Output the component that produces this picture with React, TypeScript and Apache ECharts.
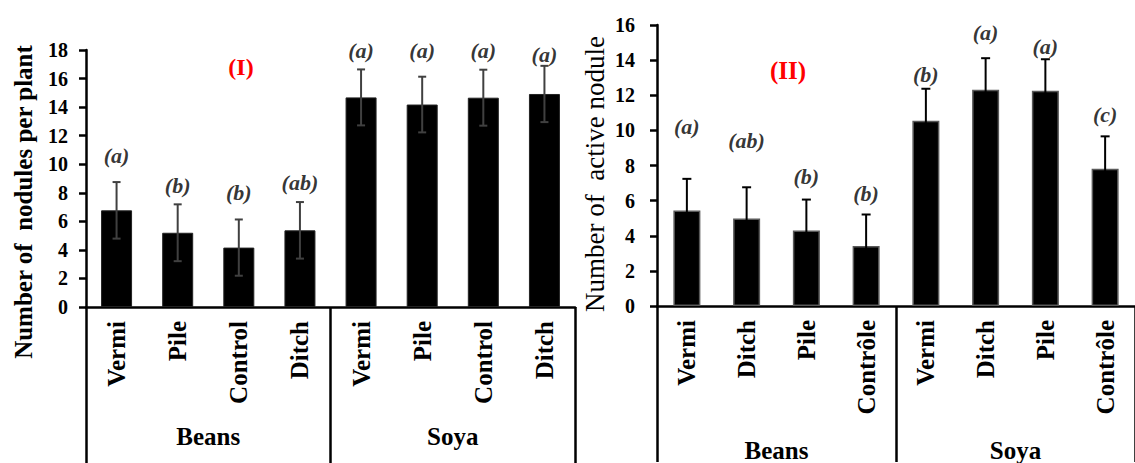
import React, { useEffect, useRef } from 'react';
import * as echarts from 'echarts';

const groups = ['Beans', 'Soya'];

const catsI = ['Vermi', 'Pile', 'Control', 'Ditch', 'Vermi', 'Pile', 'Control', 'Ditch'];
const meanI = [6.77, 5.2, 4.16, 5.37, 14.68, 14.18, 14.66, 14.92];
const errI = [1.98, 1.99, 1.97, 1.98, 1.96, 1.95, 1.96, 1.97];
const letterI = ['(a)', '(b)', '(b)', '(ab)', '(a)', '(a)', '(a)', '(a)'];
const letterLevelI = [10.6, 8.5, 8.0, 8.7, 17.95, 17.95, 17.95, 17.7];
const ticksI = { min: 0, max: 18, step: 2 };

const catsII = ['Vermi', 'Ditch', 'Pile', 'Contrôle', 'Vermi', 'Ditch', 'Pile', 'Contrôle'];
const meanII = [5.44, 4.98, 4.3, 3.41, 10.55, 12.31, 12.26, 7.82];
const errII = [1.8, 1.78, 1.76, 1.8, 1.82, 1.8, 1.79, 1.84];
const letterII = ['(a)', '(ab)', '(b)', '(b)', '(b)', '(a)', '(a)', '(c)'];
const letterLevelII = [10.2, 9.4, 7.4, 6.4, 13.2, 15.55, 14.8, 10.9];
const ticksII = { min: 0, max: 16, step: 2 };

const FF = 'Liberation Serif';

function errorRender(color: string, half: number) {
  return (params: any, api: any) => {
    const x = api.value(0);
    const lo = api.coord([x, api.value(1)]);
    const hi = api.coord([x, api.value(2)]);
    const st = { stroke: color, lineWidth: 2 };
    return {
      type: 'group',
      children: [
        { type: 'line', shape: { x1: hi[0], y1: hi[1], x2: lo[0], y2: lo[1] }, style: st },
        { type: 'line', shape: { x1: hi[0] - half, y1: hi[1], x2: hi[0] + half, y2: hi[1] }, style: st },
        { type: 'line', shape: { x1: lo[0] - half, y1: lo[1], x2: lo[0] + half, y2: lo[1] }, style: st },
      ],
    };
  };
}

function panel(g: number, cats: string[], mean: number[], err: number[], letters: string[], levels: number[],
  ticks: { min: number; max: number; step: number }, opt: any) {
  const xAxes = [
    {
      gridIndex: g, type: 'category', data: cats, position: 'bottom',
      axisLine: { show: true, onZero: false, lineStyle: { color: '#000', width: 2.5 } },
      axisTick: {
        show: true, interval: (i: number) => i % 4 === 0, length: 156,
        lineStyle: { color: '#000', width: 2.5 },
      },
      axisLabel: { interval: 0, rotate: 90, margin: 14, fontFamily: FF, fontWeight: 'bold', fontSize: 25, color: '#000' },
      splitLine: { show: false },
    },
    {
      gridIndex: g, type: 'category', data: groups, position: 'bottom',
      axisLine: { show: false }, axisTick: { show: false },
      axisLabel: { interval: 0, margin: opt.groupMargin, fontFamily: FF, fontWeight: 'bold', fontSize: 25, color: '#000' },
      splitLine: { show: false },
    },
  ];
  const yAxis = {
    gridIndex: g, type: 'value', min: ticks.min, max: ticks.max, interval: ticks.step,
    axisLine: { show: true, lineStyle: { color: '#000', width: 2.5 } },
    axisTick: { show: true, inside: false, length: 7, lineStyle: { color: '#000', width: 2.5 } },
    axisLabel: { margin: opt.yMargin, fontFamily: FF, fontWeight: 'bold', fontSize: 20, color: '#000' },
    splitLine: { show: false },
  };
  const series = [
    {
      type: 'bar', xAxisIndex: 2 * g, yAxisIndex: g, data: mean, barWidth: opt.barWidth,
      itemStyle: { color: '#000', borderColor: opt.barBorder, borderWidth: opt.barBorderWidth },
      z: 2,
    },
    {
      type: 'custom', xAxisIndex: 2 * g, yAxisIndex: g,
      data: mean.map((m, i) => [i, m - err[i], m + err[i]]),
      encode: { x: 0, y: [1, 2] },
      renderItem: errorRender(opt.errColor, opt.capHalf),
      z: 3,
    },
    {
      type: 'scatter', xAxisIndex: 2 * g, yAxisIndex: g, clip: false,
      data: levels.map((l, i) => [i, l]),
      symbolSize: 1, itemStyle: { color: 'rgba(0,0,0,0)' },
      label: {
        show: true, position: 'inside', formatter: (p: any) => letters[p.dataIndex],
        fontFamily: FF, fontStyle: 'italic', fontWeight: 'bold', fontSize: 22, color: '#000',
      },
      z: 4,
    },
  ];
  return { xAxes, yAxis, series };
}

export default function App() {
  const ref = useRef<HTMLDivElement>(null);
  useEffect(() => {
    if (!ref.current) return;
    const chart = echarts.init(ref.current, undefined, { renderer: 'svg' });
    const p1 = panel(0, catsI, meanI, errI, letterI, letterLevelI, ticksI, {
      groupMargin: 117, yMargin: 18, barWidth: 31, barBorder: '#222', barBorderWidth: 1,
      errColor: '#404040', capHalf: 4,
    });
    const p2 = panel(1, catsII, meanII, errII, letterII, letterLevelII, ticksII, {
      groupMargin: 132, yMargin: 22, barWidth: 27, barBorder: '#595959', barBorderWidth: 1.5,
      errColor: '#000', capHalf: 4.5,
    });
    chart.setOption({
      animation: false,
      backgroundColor: '#fff',
      textStyle: { fontFamily: FF },
      grid: [
        { left: 86, top: 50, width: 489, height: 257, containLabel: false },
        { left: 657, top: 25, width: 486, height: 282, containLabel: false },
      ],
      xAxis: [...p1.xAxes, ...p2.xAxes],
      yAxis: [p1.yAxis, p2.yAxis],
      series: [...p1.series, ...p2.series],
      graphic: [
        {
          type: 'text', x: 241, y: 67,
          style: { text: '(I)', fill: '#ff0000', font: `bold 24px ${FF}`, textAlign: 'center', textVerticalAlign: 'middle' },
        },
        {
          type: 'text', x: 788, y: 70,
          style: { text: '(II)', fill: '#ff0000', font: `bold 25px ${FF}`, textAlign: 'center', textVerticalAlign: 'middle' },
        },
        {
          type: 'text', x: 23, y: 202, rotation: Math.PI / 2,
          style: { text: 'Number of  nodules per plant', fill: '#000', font: `bold 25px ${FF}`, textAlign: 'center', textVerticalAlign: 'middle' },
        },
        {
          type: 'text', x: 595, y: 174, rotation: Math.PI / 2,
          style: { text: 'Number of  active nodule', fill: '#000', font: `27px ${FF}`, textAlign: 'center', textVerticalAlign: 'middle' },
        },
      ],
    });
    return () => chart.dispose();
  }, []);
  return <div ref={ref} style={{ position: 'fixed', left: 0, top: 0, width: 1135, height: 463, background: '#fff' }} />;
}
